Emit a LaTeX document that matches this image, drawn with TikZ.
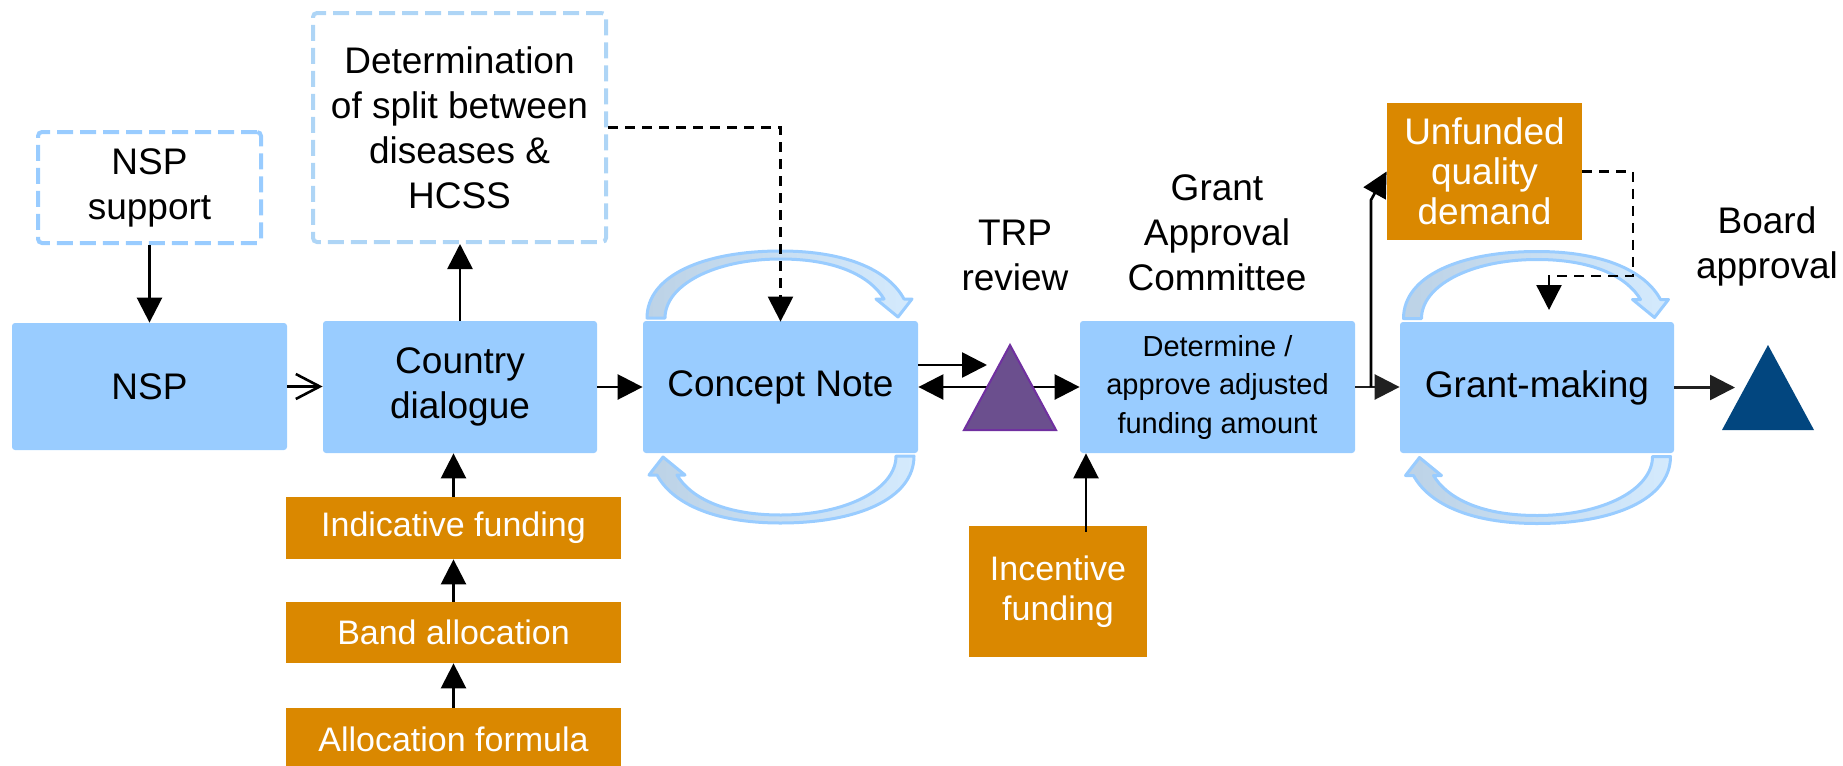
\documentclass[tikz,border=0pt]{standalone}
\usepackage{fontspec}
\setmainfont{Liberation Sans}
\usetikzlibrary{arrows.meta}
\definecolor{boxblue}{HTML}{99CCFF}
\definecolor{dashblueA}{HTML}{99CCFF}
\definecolor{dashblueB}{HTML}{AED5F6}
\definecolor{orangebox}{HTML}{DA8800}
\definecolor{trpfill}{HTML}{6B4F8E}
\definecolor{trpline}{HTML}{7030A0}
\definecolor{boardblue}{HTML}{02467F}
\definecolor{cycfillA}{HTML}{BCD2E6}
\definecolor{cycfillB}{HTML}{D4EAFD}
\definecolor{darkarrow}{HTML}{202020}
\newcommand{\cyclearrowpath}{%
  \path[cyc] (-133.5,-69) .. controls (-133.5,-112) and (-76,-136) .. (0,-136)
    .. controls (69,-136) and (109,-115) .. (123.5,-88) -- (131.5,-88) -- (117.5,-70)
    -- (95.5,-88) -- (103.5,-88) .. controls (91,-109) and (59,-128) .. (0,-128)
    .. controls (-66,-128) and (-115.5,-102) .. (-115.5,-69) -- cycle;}
\begin{document}
\begin{tikzpicture}[x=0.5pt,y=-0.5pt,
  fbig/.style={font=\fontsize{18.5pt}{22.5pt}\selectfont},
  fmid/.style={font=\fontsize{17pt}{20pt}\selectfont},
  fsmall/.style={font=\fontsize{14.5pt}{19.25pt}\selectfont},
  bluebox/.style={fill=boxblue, rounded corners=1.5pt, inner sep=0pt, align=center, fbig},
  dashbox/.style={draw=#1, line width=2pt, dash pattern=on 8pt off 3.5pt, rounded corners=2pt, inner sep=0pt, align=center, fbig},
  orbox/.style={fill=orangebox, text=white, inner sep=0pt, align=center},
  lab/.style={inner sep=0pt, align=center, fbig},
  arr/.style={line width=1.3pt, -{Triangle[length=12.5pt,width=12.5pt]}},
  arrdk/.style={line width=1.3pt, draw=darkarrow, -{Triangle[length=12.5pt,width=12.5pt,fill=darkarrow]}},
  openarr/.style={line width=1.3pt, -{Straight Barb[length=12pt,width=12.5pt]}},
  darr/.style={line width=1.2pt, dash pattern=on 5pt off 3.5pt, -{Triangle[length=12.5pt,width=12.5pt]}},
  cyc/.style={draw=boxblue, line width=1.5pt, line join=round, left color=cycfillA, right color=cycfillB},
]
\useasboundingbox (0,0) rectangle (1843,766);

% boxes
\node[dashbox=dashblueA, minimum width=111.5pt, minimum height=55.5pt] (nspsup) at (149.5,187.5) {NSP\\support};
\node[dashbox=dashblueB, minimum width=146.5pt, minimum height=114.5pt] (det) at (459.5,127.5) {Determination\\of split between\\diseases \&\\HCSS};
\node[bluebox, minimum width=137.5pt, minimum height=63.5pt] (nsp) at (149.5,386.5) {NSP};
\node[bluebox, minimum width=137pt, minimum height=66pt] (cd) at (460,387) {Country\\dialogue};
\node[bluebox, minimum width=137.5pt, minimum height=66pt] (cn) at (780.5,387) {Concept Note};
\node[bluebox, fsmall, minimum width=137.5pt, minimum height=66pt] (gac) at (1217.5,387) {Determine /\\approve adjusted\\funding amount};
\node[bluebox, minimum width=137pt, minimum height=65.5pt] (gm) at (1537,387.5) {Grant-making};
\node[orbox, font=\fontsize{18.5pt}{20pt}\selectfont, minimum width=97.5pt, minimum height=68.5pt] (unf) at (1484.5,171.5) {Unfunded\\quality\\demand};
\node[orbox, fmid, minimum width=89pt, minimum height=65.5pt] (inc) at (1058,591.5) {Incentive\\funding};
\node[orbox, fmid, minimum width=167.5pt, minimum height=31pt] (ind) at (453.5,528) {Indicative funding};
\node[orbox, fmid, minimum width=167.5pt, minimum height=30.5pt] (band) at (453.5,632.5) {Band allocation};
\node[orbox, fmid, minimum width=167.5pt, minimum height=31pt] (alloc) at (453.5,739) {Allocation formula};

% labels
\node[lab] (trplab) at (1015,255.5) {TRP\\review};
\node[lab] (gaclab) at (1217,233) {Grant\\Approval\\Committee};
\node[lab] (boardlab) at (1767,246.5) {Board\\approval};

% cycle arrows
\begin{scope}[shift={(cn.center)}] \cyclearrowpath \end{scope}
\begin{scope}[shift={(cn.center)}, rotate=180] \cyclearrowpath \end{scope}
\begin{scope}[shift={(gm.center)}] \cyclearrowpath \end{scope}
\begin{scope}[shift={(gm.center)}, rotate=180] \cyclearrowpath \end{scope}

% helper coordinates
\coordinate (trpin) at (987,365);
\coordinate (trpout) at (987,387);
\coordinate (trpright) at (1032,387);
\coordinate (incx) at (1086,0);
\coordinate (upx) at (1371,0);
\coordinate (turn) at (1371,200);
\coordinate (d1) at (1633,276);
\coordinate (gmin) at (1549,310);
\coordinate (bdin) at (1735,387.5);

% connectors
\draw[arr] (nspsup.south) -- (nsp.north);
\draw[openarr] (nsp.east) -- (nsp.east -| cd.west);
\draw[arr] (cd.north) -- (cd.north |- det.south);
\draw[arr] (cd.east) -- (cd.east -| cn.west);
\draw[arr] (band.north) -- (ind.south);
\draw[arr] (alloc.north) -- (band.south);
\draw[arr] (ind.north) -- (ind.north |- cd.south);
\draw[darr] (det.east) -| ([yshift=-0.5pt]cn.north);
\draw[arr] (cn.east |- trpin) -- (trpin);
\draw[arr] (trpout) -- (cn.east |- trpout);
\draw[arr] (trpright) -- (gac.west |- trpright);
\draw[arr] ([yshift=-3pt]inc.north -| incx) -- (gac.south -| incx);
\draw[arrdk] (gac.east) -- (gac.east -| gm.west);
\draw[arr] (gac.east -| upx) -- (turn) -- (unf.west);
\draw[darr] (unf.east) -| (d1) -| (gmin);
\draw[arrdk] (gm.east) -- (bdin);

% triangles
\path[fill=trpfill, draw=trpline, line width=1pt] (964,430) coordinate (trpA) -- (1010,345) coordinate (trpT) -- (1056,430) coordinate (trpB) -- cycle;
\path[fill=boardblue] (1722,430) coordinate (bdA) -- (1768,345) coordinate (bdT) -- (1814,430) coordinate (bdB) -- cycle;
\end{tikzpicture}
\end{document}
